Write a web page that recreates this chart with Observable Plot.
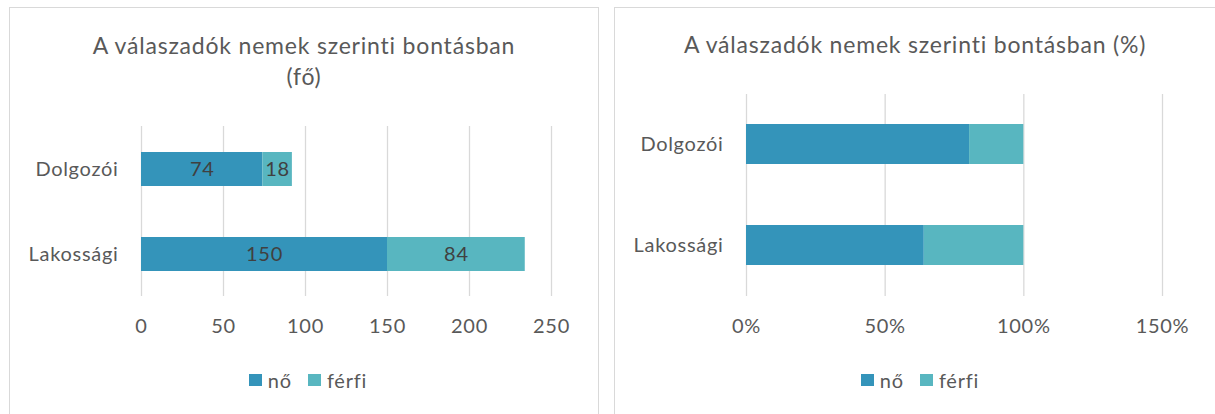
<!DOCTYPE html>
<html>
<head>
<meta charset="utf-8">
<script src="https://cdn.jsdelivr.net/npm/d3@7"></script>
<script src="https://cdn.jsdelivr.net/npm/@observablehq/plot@0.6"></script>
<style>
  html, body { margin: 0; padding: 0; background: #fff; }
  body { width: 1215px; height: 414px; position: relative; overflow: hidden; font-family: Lato, "Open Sans", sans-serif; color: #595959; }
  .box { position: absolute; border: 1px solid #D9D9D9; box-sizing: border-box; }
  .title { position: absolute; text-align: center; font-size: 23px; letter-spacing: 0.8px; line-height: 31px; color: #595959; white-space: nowrap; }
  .chart { position: absolute; }
  .chart svg text { letter-spacing: 0.7px; }
  .legend { position: absolute; display: flex; justify-content: center; align-items: center; font-size: 20px; letter-spacing: 0.8px; color: #595959; height: 24px; }
  .legend .item { display: flex; align-items: center; margin: 0 8px; }
  .legend .sw { width: 13px; height: 12px; margin-right: 6px; }
</style>
</head>
<body>
<div class="box" style="left:9px; top:7px; width:590px; height:430px;"></div>
<div class="box" style="left:614px; top:7px; width:610px; height:430px;"></div>
<div class="title" style="left:9px; width:590px; top:30px;">A válaszadók nemek szerinti bontásban<br>(fő)</div>
<div class="title" style="left:614px; width:602px; top:29px;">A válaszadók nemek szerinti bontásban (%)</div>
<div class="chart" id="c1" style="left:9px; top:110px;"></div>
<div class="chart" id="c2" style="left:614px; top:80px;"></div>
<div class="legend" id="l1" style="left:9px; width:598px; top:368px;"></div>
<div class="legend" id="l2" style="left:614px; width:612px; top:368px;"></div>
<script>
const categories = ["Dolgozói", "Lakossági"];
const series = ["nő", "férfi"];
const noValues = [74, 150];
const ferfiValues = [18, 84];
const countTicks = [0, 50, 100, 150, 200, 250];
const pctTicks = [0, 0.5, 1, 1.5];
const seriesColors = ["#3494BA", "#58B6C0"];

const rows = [];
categories.forEach((c, i) => {
  rows.push({cat: c, sex: series[0], value: noValues[i]});
  rows.push({cat: c, sex: series[1], value: ferfiValues[i]});
});

const gridStyle = {stroke: "#D9D9D9", strokeOpacity: 1, strokeWidth: 1.3};
const svgStyle = {fontFamily: "Lato, 'Open Sans', sans-serif", fontSize: "20px", color: "#595959", background: "transparent", overflow: "visible"};
const FS = 20;

const p1 = Plot.plot({
  width: 589, height: 240,
  marginLeft: 132, marginRight: 47, marginTop: 16, marginBottom: 54,
  style: svgStyle,
  x: {domain: [0, 250], label: null},
  y: {domain: categories, paddingInner: 0.6, paddingOuter: 0.3, label: null},
  color: {domain: series, range: seriesColors},
  marks: [
    Plot.gridX(countTicks, gridStyle),
    Plot.barX(rows, Plot.stackX({x: "value", y: "cat", fill: "sex"})),
    Plot.text(rows, Plot.stackX({x: "value", y: "cat", z: "sex", text: d => String(d.value), fill: "#404040", fontSize: FS})),
    Plot.axisX(countTicks, {tickSize: 0, tickPadding: 22, fontSize: FS, fill: "#595959", label: null}),
    Plot.axisY({tickSize: 0, tickPadding: 23, fontSize: FS, fill: "#595959", label: null})
  ]
});
document.getElementById("c1").appendChild(p1);

const p2 = Plot.plot({
  width: 601, height: 270,
  marginLeft: 132, marginRight: 53, marginTop: 14, marginBottom: 54,
  style: svgStyle,
  x: {domain: [0, 1.5], label: null},
  y: {domain: categories, paddingInner: 0.6, paddingOuter: 0.3, label: null},
  color: {domain: series, range: seriesColors},
  marks: [
    Plot.gridX(pctTicks, gridStyle),
    Plot.barX(rows, Plot.stackX({x: "value", y: "cat", fill: "sex", offset: "normalize"})),
    Plot.axisX(pctTicks, {tickSize: 0, tickPadding: 22, fontSize: FS, fill: "#595959", tickFormat: d3.format(".0%"), label: null}),
    Plot.axisY({tickSize: 0, tickPadding: 23, fontSize: FS, fill: "#595959", label: null})
  ]
});
document.getElementById("c2").appendChild(p2);

function legend(id) {
  const el = document.getElementById(id);
  series.forEach((s, i) => {
    const item = document.createElement("div");
    item.className = "item";
    const sw = document.createElement("div");
    sw.className = "sw";
    sw.style.background = seriesColors[i];
    const t = document.createElement("span");
    t.textContent = s;
    item.appendChild(sw);
    item.appendChild(t);
    el.appendChild(item);
  });
}
legend("l1");
legend("l2");
</script>
</body>
</html>
